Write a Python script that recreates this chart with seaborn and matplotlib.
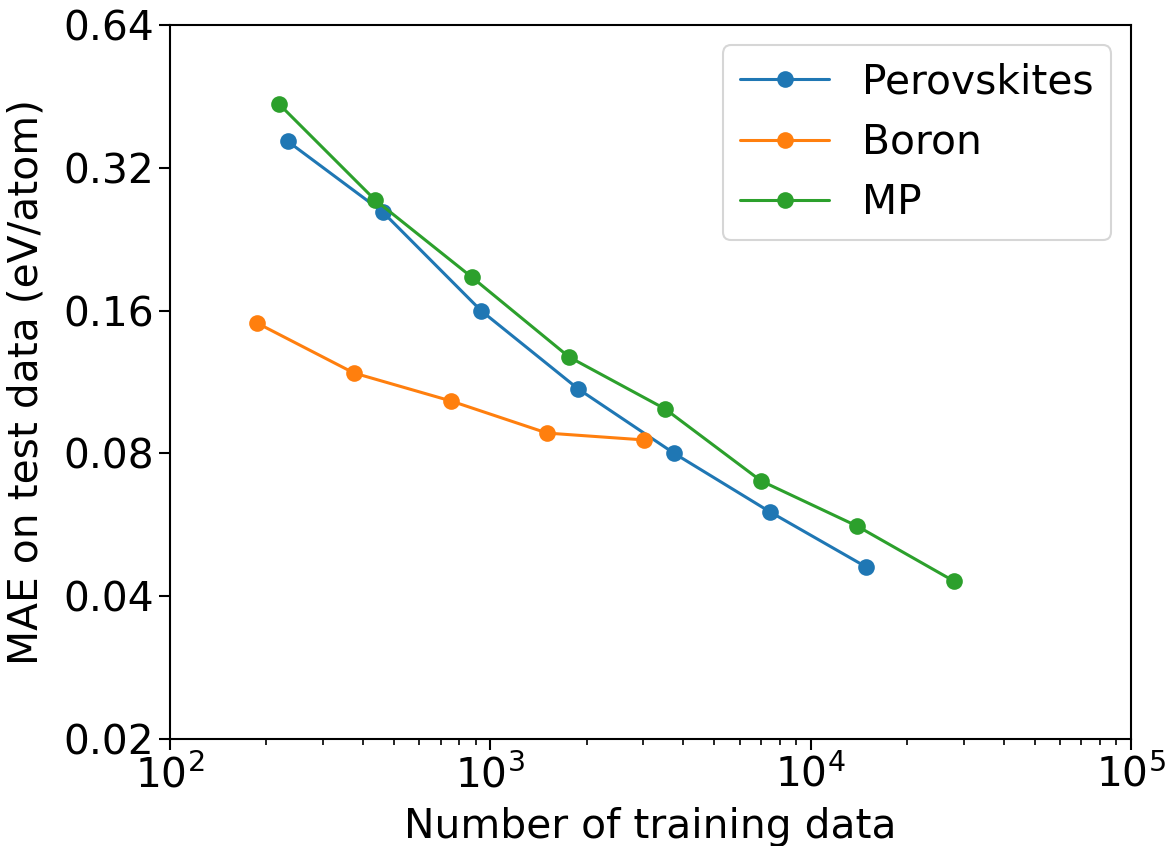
import matplotlib
matplotlib.use("Agg")
import matplotlib.pyplot as plt
import matplotlib.ticker as mticker
import seaborn as sns
import pandas as pd

perov_x = [233, 462, 935, 1880, 3750, 7470, 14900]
perov_y = [0.364, 0.258, 0.160, 0.1094, 0.080, 0.0602, 0.0461]
boron_x = [187, 375, 753, 1503, 3020]
boron_y = [0.1506, 0.1182, 0.1032, 0.0883, 0.0854]
mp_x = [219, 436, 877, 1762, 3510, 7000, 13970, 28050]
mp_y = [0.436, 0.274, 0.188, 0.1277, 0.0993, 0.070, 0.0562, 0.043]
names = ["Perovskites", "Boron", "MP"]
y_ticks = [0.02, 0.04, 0.08, 0.16, 0.32, 0.64]

FS = 29.3

sns.set_style("ticks")
plt.rcParams["font.family"] = ["DejaVu Sans"]
plt.rcParams.update({"text.color": "black", "axes.labelcolor": "black",
                     "xtick.color": "black", "ytick.color": "black"})

frames = []
for n, xs, ys in zip(names, [perov_x, boron_x, mp_x], [perov_y, boron_y, mp_y]):
    frames.append(pd.DataFrame({"x": xs, "y": ys, "dataset": n}))
df = pd.concat(frames, ignore_index=True)

fig = plt.figure(figsize=(11.67, 8.46), dpi=100)
ax = fig.add_axes([0.1457, 0.1265, 0.9692 - 0.1457, 0.9704 - 0.1265])
palette = ["#1f77b4", "#ff7f0e", "#2ca02c"]
sns.lineplot(data=df, x="x", y="y", hue="dataset", palette=palette, marker="o",
             markersize=12, markeredgewidth=0, linewidth=2.2, ax=ax, sort=False)

ax.set_xscale("log")
ax.set_yscale("log", base=2)
ax.set_xlim(100, 100000)
ax.set_ylim(0.02, 0.64)
ax.yaxis.set_major_locator(mticker.FixedLocator(y_ticks))
ax.yaxis.set_major_formatter(mticker.FixedFormatter([f"{v:.2f}" for v in y_ticks]))
ax.yaxis.set_minor_locator(mticker.NullLocator())
ax.xaxis.set_major_formatter(mticker.LogFormatterSciNotation())

ax.set_xlabel("Number of training data", fontsize=FS, labelpad=8)
ax.set_ylabel("MAE on test data (eV/atom)", fontsize=FS, labelpad=12)
ax.tick_params(axis="both", which="major", labelsize=FS, length=8, width=1.5,
               direction="out", colors="black")
ax.tick_params(axis="x", which="minor", length=4.5, width=1.2, colors="black")
for s in ax.spines.values():
    s.set_linewidth(1.5)
    s.set_color("black")

leg = ax.legend(loc="upper right", fontsize=FS, frameon=True, handlelength=2.2,
                handletextpad=0.8, borderpad=0.42, labelspacing=0.5,
                borderaxespad=0.5)
leg.get_frame().set_edgecolor("#cccccc")
leg.get_frame().set_linewidth(1.5)
for t in leg.get_texts():
    t.set_color("black")

fig.savefig("out.png", dpi=100)
